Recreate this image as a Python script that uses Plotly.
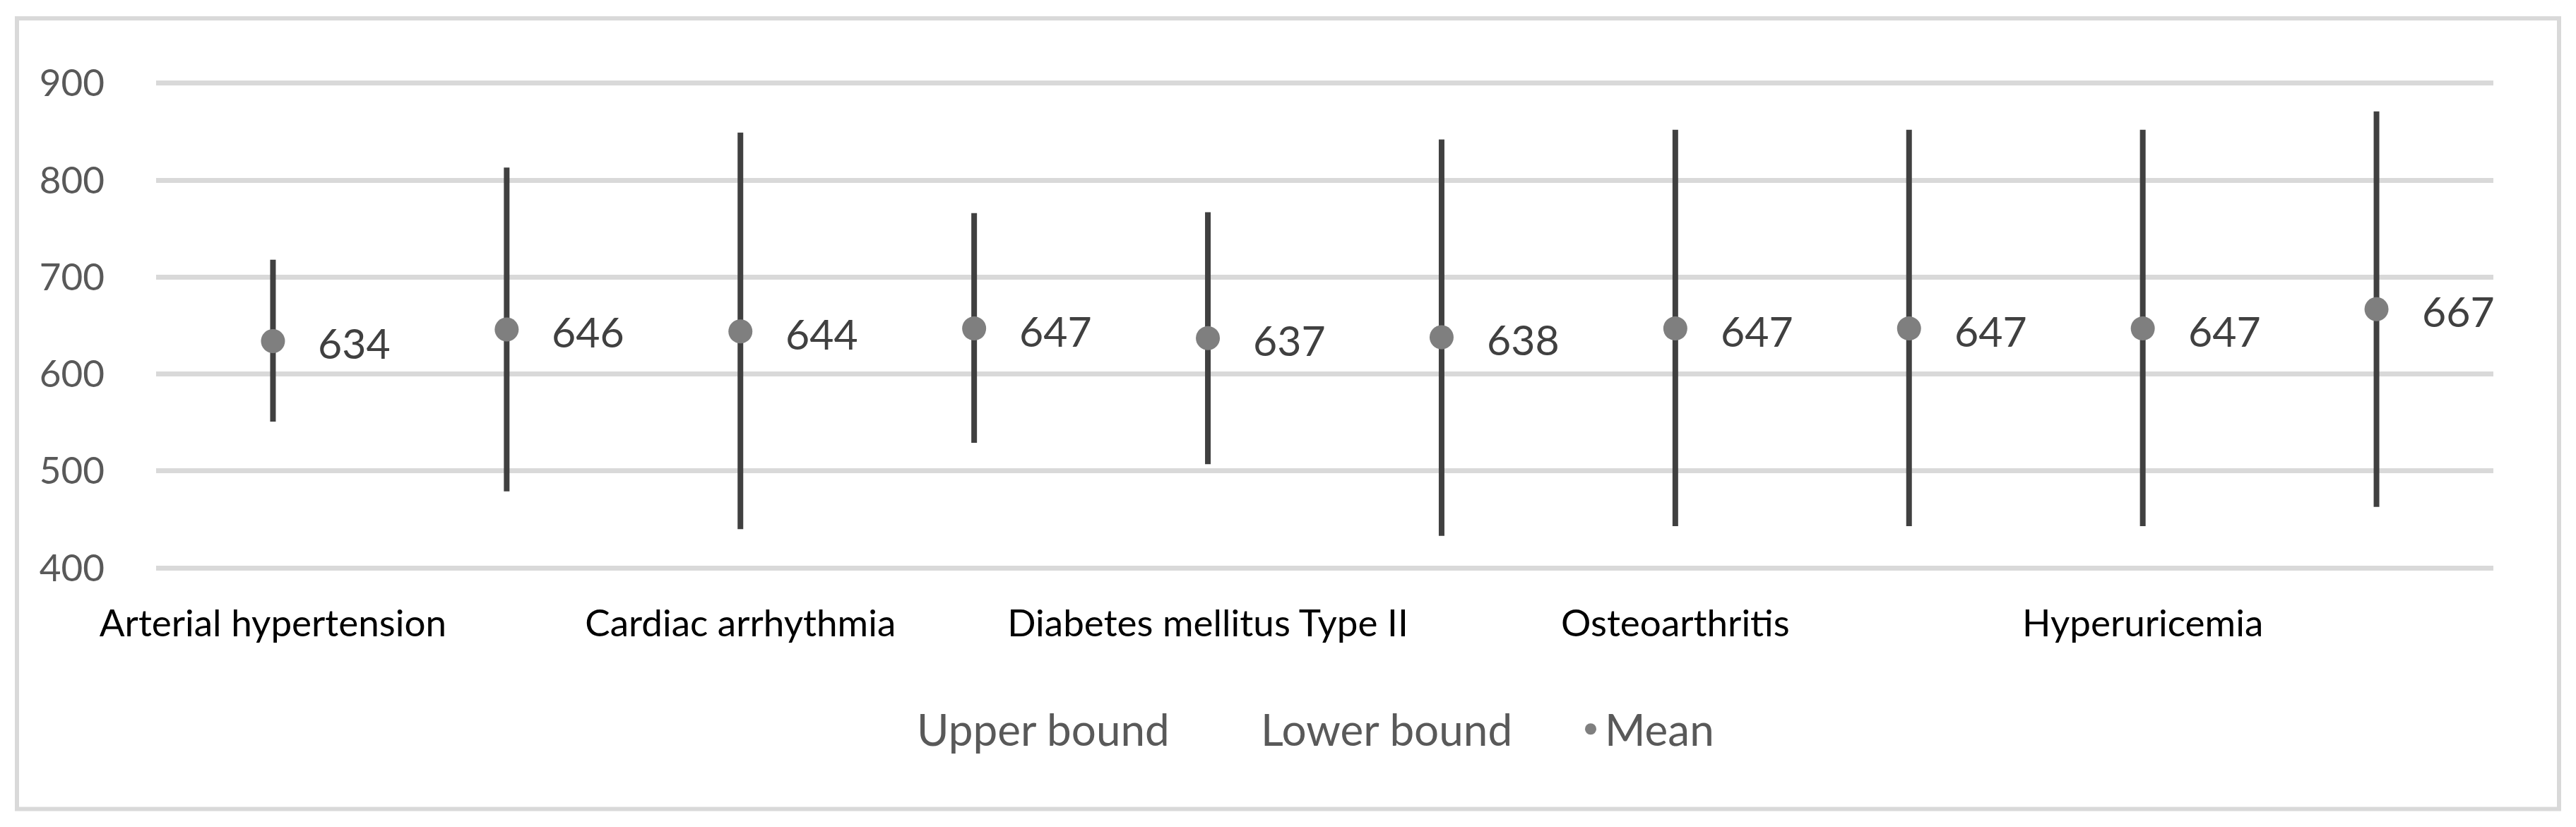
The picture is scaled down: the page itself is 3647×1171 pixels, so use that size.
import plotly.graph_objects as go

# ---- data ----
positions = [0, 1, 2, 3, 4, 5, 6, 7, 8, 9]
mean_vals = [634, 646, 644, 647, 637, 638, 647, 647, 647, 667]
upper_vals = [718, 813, 849, 766, 767, 842, 852, 852, 852, 871]
lower_vals = [551, 479, 440, 529, 507, 433, 443, 443, 443, 463]
tick_positions = [0, 2, 4, 6, 8]
tick_labels = ["Arterial hypertension", "Cardiac arrhythmia",
               "Diabetes mellitus Type II", "Osteoarthritis", "Hyperuricemia"]
y_ticks = [400, 500, 600, 700, 800, 900]

FONT = "Lato"
OFF = 8  # default page margin of the browser
W, H = 3647 - 2 * OFF, 1171 - 2 * OFF
# target plot area on screen: x 221..3530, y 111..811.4
L = 221 - OFF
T = 111 - OFF
R = W - (3530 - OFF)
B = H - (811.4 - OFF)

fig = go.Figure()

fig.add_trace(go.Scatter(
    x=positions, y=upper_vals, name="Upper bound", mode="lines",
    line=dict(color="rgba(0,0,0,0)", width=0), hoverinfo="y"))
fig.add_trace(go.Scatter(
    x=positions, y=lower_vals, name="Lower bound", mode="lines",
    line=dict(color="rgba(0,0,0,0)", width=0), hoverinfo="y"))

err_plus = [u - m for u, m in zip(upper_vals, mean_vals)]
err_minus = [m - l for m, l in zip(mean_vals, lower_vals)]
fig.add_trace(go.Scatter(
    x=positions, y=mean_vals, name="Mean", mode="markers",
    marker=dict(symbol="circle", size=34, color="#7f7f7f"),
    error_y=dict(type="data", symmetric=False, array=err_plus,
                 arrayminus=err_minus, color="#404040", thickness=8, width=0)))

for xp, m in zip(positions, mean_vals):
    fig.add_annotation(x=xp, y=m, text=str(m), showarrow=False,
                       xanchor="left", yanchor="middle", xshift=62, yshift=-3,
                       font=dict(family=FONT, size=59, color="#404040"))

pw = W - L - R
ph = H - T - B
def sx(px):  # screen x -> paper
    return (px - OFF - L) / pw
def sy(py):  # screen y -> paper
    return (H - B - (py - OFF)) / ph

fig.add_shape(type="rect", xref="paper", yref="paper",
              x0=sx(24), x1=sx(3623), y0=sy(1146), y1=sy(26),
              line=dict(color="#d9d9d9", width=6), fillcolor="rgba(0,0,0,0)",
              layer="below")

fig.update_layout(
    width=W, height=H,
    margin=dict(l=L, r=R, t=T, b=B),
    paper_bgcolor="white", plot_bgcolor="white",
    font=dict(family=FONT),
    showlegend=True,
    legend=dict(orientation="h", x=sx(1258), xanchor="left",
                y=sy(1033), yanchor="middle",
                entrywidth=442, entrywidthmode="pixels",
                font=dict(family=FONT, size=62, color="#595959"),
                bgcolor="rgba(0,0,0,0)"),
    xaxis=dict(range=[-0.5, 9.5], showgrid=False, zeroline=False,
               showline=False, tickmode="array", tickvals=tick_positions,
               ticktext=tick_labels, ticks="", ticklabelstandoff=36,
               tickfont=dict(family=FONT, size=53, color="#000000")),
    yaxis=dict(range=[395, 905], tickmode="array", tickvals=y_ticks,
               showgrid=True, gridcolor="#d9d9d9", gridwidth=7,
               zeroline=False, showline=False, ticks="",
               ticklabelstandoff=72,
               tickfont=dict(family=FONT, size=53, color="#595959")),
)

fig.write_html("out.html")
